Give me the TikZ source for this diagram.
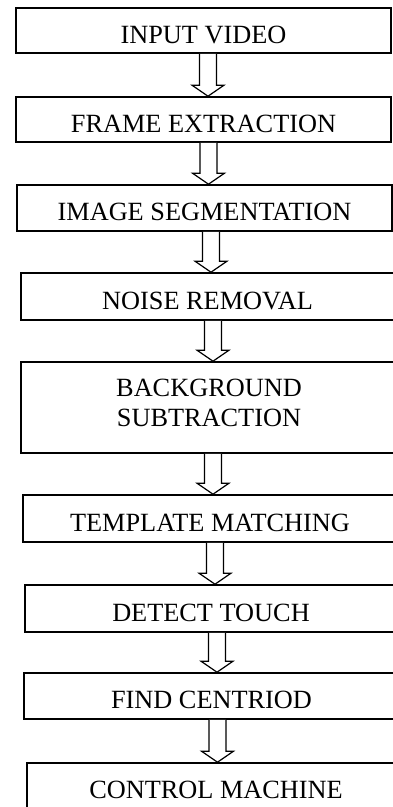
\documentclass[tikz,border=0pt]{standalone}
\usepackage{fontspec}
\setmainfont{Liberation Serif}
\usetikzlibrary{calc}
\tikzset{
  stepbox/.style={draw=black, line width=1.6pt, rectangle, inner sep=0pt,
    minimum height=46, text height=25pt, text depth=0pt,
    font=\fontsize{26.3}{30}\selectfont},
  barrow/.style={draw=black, fill=white, line width=1.2pt, line join=miter},
}
\newcommand\blockarr[3]{%
  \coordinate (ax) at (#3,0);
  \draw[barrow] ($(#1.south -| ax)+(-8.5,0)$) -- ($(#2.north -| ax)+(-8.5,-11)$)
    -- ($(#2.north -| ax)+(-16,-11)$) -- (#2.north -| ax)
    -- ($(#2.north -| ax)+(16,-11)$) -- ($(#2.north -| ax)+(8.5,-11)$)
    -- ($(#1.south -| ax)+(8.5,0)$);
}
\begin{document}
\begin{tikzpicture}[x=1pt, y=-1pt]
\useasboundingbox (0,0) rectangle (393,807);
\clip (0,0) rectangle (393,807);
\fill[white] (0,0) rectangle (393,807);
\node[stepbox, minimum width=375, minimum height=45] (b1) at (203.5,30.5) {INPUT VIDEO};
\node[stepbox, minimum width=375, minimum height=45] (b2) at (203.5,119.5) {FRAME EXTRACTION};
\node[stepbox, minimum width=375] (b3) at (204.5,208) {IMAGE SEGMENTATION};
\node[stepbox, minimum width=373, minimum height=47] (b4) at (207.5,296.5) {NOISE REMOVAL};
\node[stepbox, minimum width=376, minimum height=91, align=center, text height=46pt, text depth=9pt] (b5) at (209,407.5) {BACKGROUND\\SUBTRACTION};
\node[stepbox, minimum width=374, minimum height=47] (b6) at (210,518.5) {TEMPLATE MATCHING};
\node[stepbox, minimum width=372, minimum height=47] (b7) at (211,608.5) {DETECT TOUCH};
\node[stepbox, minimum width=375] (b8) at (211.5,696) {FIND CENTRIOD};
\node[stepbox, minimum width=378] (b9) at (216,786) {CONTROL MACHINE};
\blockarr{b1}{b2}{208}
\blockarr{b2}{b3}{208.5}
\blockarr{b3}{b4}{211}
\blockarr{b4}{b5}{213}
\blockarr{b5}{b6}{213}
\blockarr{b6}{b7}{215}
\blockarr{b7}{b8}{217}
\blockarr{b8}{b9}{217.5}
\end{tikzpicture}
\end{document}
